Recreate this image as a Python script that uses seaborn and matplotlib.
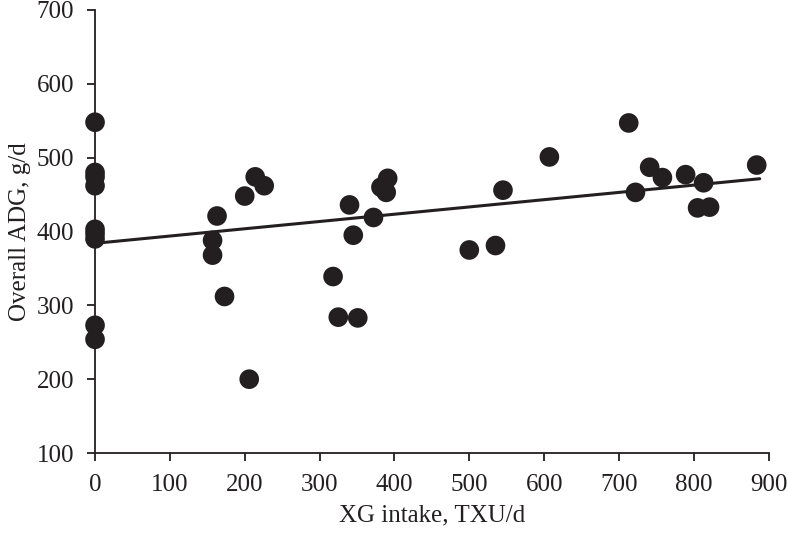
import numpy as np
import matplotlib
matplotlib.use("Agg")
import matplotlib.pyplot as plt
import seaborn as sns
import pandas as pd

# XG intake (TXU/d) and overall ADG (g/d)
xg_intake = [0, 0, 0, 0, 0, 0, 0, 0, 0,
             163, 157, 157, 173, 206, 200, 214, 226,
             340, 345, 372, 318, 325, 351, 391, 382, 389,
             500, 535, 545, 607,
             713, 722, 741, 758, 789, 813, 805, 821, 884]
adg = [548, 480, 474, 462, 403, 397, 390, 273, 254,
       421, 388, 368, 312, 200, 448, 474, 462,
       436, 395, 419, 339, 284, 283, 472, 460, 453,
       375, 381, 456, 501,
       547, 453, 487, 473, 477, 466, 432, 433, 490]

# regression line as drawn: intercept and slope
fit_intercept = 384
fit_slope = 0.0985
fit_range = [0, 888]

x_ticks = list(range(0, 901, 100))
y_ticks = list(range(100, 701, 100))

df = pd.DataFrame({"xg": xg_intake, "adg": adg})
fit_df = pd.DataFrame({"xg": fit_range})
fit_df["adg"] = fit_intercept + fit_slope * fit_df["xg"]

sns.set_style("ticks")
plt.rcParams["font.family"] = ["Liberation Serif", "DejaVu Serif"]

fig = plt.figure(figsize=(7.88, 5.37), dpi=100)
ax = fig.add_axes([0.1206, 0.1564, 0.8549, 0.8250])

ink = "#231f20"
sns.lineplot(data=fit_df, x="xg", y="adg", color=ink, linewidth=2.2, ax=ax, zorder=2)
sns.scatterplot(data=df, x="xg", y="adg", color=ink, s=200, edgecolor="none",
                linewidth=0, ax=ax, zorder=3, clip_on=False)

ax.set_xlim(0, 900)
ax.set_ylim(100, 700)
ax.set_xticks(x_ticks)
ax.set_yticks(y_ticks)
ax.tick_params(axis="both", labelsize=18, colors=ink, length=6, width=1.3,
               direction="out")
ax.tick_params(axis="y", pad=9)
ax.tick_params(axis="x", pad=9)
for side in ["top", "right"]:
    ax.spines[side].set_visible(False)
for side in ["left", "bottom"]:
    ax.spines[side].set_color(ink)
    ax.spines[side].set_linewidth(1.3)

ax.set_xlabel("XG intake, TXU/d", fontsize=18, color=ink, labelpad=6)
ax.set_ylabel("Overall ADG, g/d", fontsize=18, color=ink, labelpad=4)

fig.savefig("out.png", dpi=100)
